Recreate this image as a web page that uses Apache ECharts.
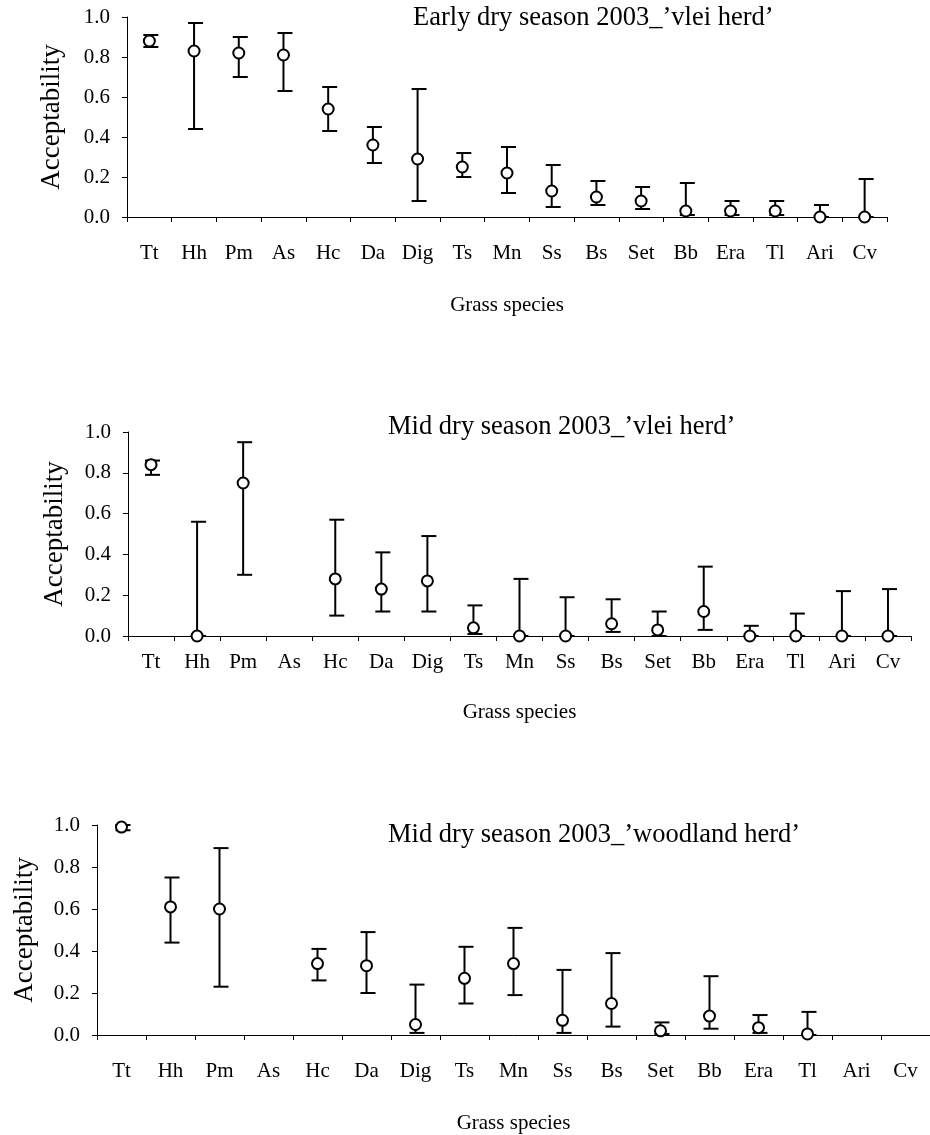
<!DOCTYPE html>
<html>
<head>
<meta charset="utf-8">
<script src="https://cdn.jsdelivr.net/npm/echarts@6/dist/echarts.min.js"></script>
<style>
html,body{margin:0;padding:0;background:#fff;}
#chart{width:930px;height:1135px;}
</style>
</head>
<body>
<div id="chart"></div>
<script>
const categories = ['Tt','Hh','Pm','As','Hc','Da','Dig','Ts','Mn','Ss','Bs','Set','Bb','Era','Tl','Ari','Cv'];
const yTicks = [0, 0.2, 0.4, 0.6, 0.8, 1.0];

const titles = [
  "Early dry season 2003_\u2019vlei herd\u2019",
  "Mid dry season 2003_\u2019vlei herd\u2019",
  "Mid dry season 2003_\u2019woodland herd\u2019"
];
const xName = 'Grass species';
const yName = 'Acceptability';

// Early dry season, vlei herd
const mean1 = [0.88,0.83,0.82,0.81,0.54,0.36,0.29,0.25,0.22,0.13,0.10,0.08,0.03,0.03,0.03,0.00,0.00];
const low1  = [0.85,0.44,0.70,0.63,0.43,0.27,0.08,0.20,0.12,0.05,0.06,0.04,0.01,0.01,0.01,0.00,0.00];
const high1 = [0.91,0.97,0.90,0.92,0.65,0.45,0.64,0.32,0.35,0.26,0.18,0.15,0.17,0.08,0.08,0.06,0.19];

// Mid dry season, vlei herd
const mean2 = [0.84,0.00,0.75,null,0.28,0.23,0.27,0.04,0.00,0.00,0.06,0.03,0.12,0.00,0.00,0.00,0.00];
const low2  = [0.79,0.00,0.30,null,0.10,0.12,0.12,0.01,0.00,0.00,0.02,0.00,0.03,0.00,0.00,0.00,0.00];
const high2 = [0.86,0.56,0.95,null,0.57,0.41,0.49,0.15,0.28,0.19,0.18,0.12,0.34,0.05,0.11,0.22,0.23];

// Mid dry season, woodland herd
const mean3 = [0.99,0.61,0.60,null,0.34,0.33,0.05,0.27,0.34,0.07,0.15,0.02,0.09,0.035,0.005,null,null];
const low3  = [0.975,0.44,0.23,null,0.26,0.20,0.01,0.15,0.19,0.01,0.04,0.005,0.03,0.01,0.00,null,null];
const high3 = [1.00,0.75,0.89,null,0.41,0.49,0.24,0.42,0.51,0.31,0.39,0.06,0.28,0.095,0.11,null,null];

const FONT = "'Liberation Serif','Times New Roman',serif";
const panels = [
  {mean: mean1, low: low1, high: high1, grid: {left:127, right:43, top:17, height:200}, title:{left:413, top:5}, labelMargin:26, nameGap:78, yNameGap:62},
  {mean: mean2, low: low2, high: high2, grid: {left:128, right:19, top:432, height:204}, title:{left:388, top:414}, labelMargin:16, nameGap:66, yNameGap:60},
  {mean: mean3, low: low3, high: high3, grid: {left:97, right:-7, top:825, height:210}, title:{left:388, top:822}, labelMargin:26, nameGap:78, yNameGap:59}
];

const grids = [], xAxes = [], yAxes = [], series = [], titleComps = [];
panels.forEach((p, k) => {
  grids.push(p.grid);
  titleComps.push({text: titles[k], left: p.title.left, top: p.title.top, padding: 0,
    textStyle: {fontFamily: FONT, fontSize: 26.5, fontWeight: 'normal', color: '#000'}});
  xAxes.push({
    type: 'category', gridIndex: k, data: categories, boundaryGap: true,
    axisLine: {lineStyle: {color: '#000', width: 1}},
    axisTick: {show: true, interval: 0, length: 5, lineStyle: {color: '#000'}},
    axisLabel: {interval: 0, margin: p.labelMargin, color: '#000', fontFamily: FONT, fontSize: 21},
    name: xName, nameLocation: 'middle', nameGap: p.nameGap,
    nameTextStyle: {color: '#000', fontFamily: FONT, fontSize: 21},
    splitLine: {show: false}
  });
  yAxes.push({
    type: 'value', gridIndex: k, min: 0, max: 1, interval: 0.2,
    axisLine: {show: true, lineStyle: {color: '#000', width: 1}},
    axisTick: {show: true, length: 5, lineStyle: {color: '#000'}},
    axisLabel: {margin: 17, color: '#000', fontFamily: FONT, fontSize: 21,
      formatter: v => (yTicks.find(t => Math.abs(t - v) < 1e-9) ?? v).toFixed(1)},
    splitLine: {show: false},
    name: yName, nameLocation: 'middle', nameGap: p.yNameGap,
    nameTextStyle: {color: '#000', fontFamily: FONT, fontSize: 27}
  });
  const errData = [];
  const ptData = [];
  categories.forEach((c, i) => {
    if (p.low[i] != null && p.high[i] != null) errData.push([i, p.low[i], p.high[i]]);
    if (p.mean[i] != null) ptData.push([i, p.mean[i]]);
  });
  series.push({
    type: 'custom', xAxisIndex: k, yAxisIndex: k, data: errData, z: 2, clip: false,
    renderItem: function (params, api) {
      const x = api.value(0);
      const lo = api.coord([x, api.value(1)]);
      const hi = api.coord([x, api.value(2)]);
      const st = {stroke: '#000', lineWidth: 2};
      const cl = -6, cr = 9;
      return {type: 'group', children: [
        {type: 'line', shape: {x1: lo[0], y1: lo[1], x2: hi[0], y2: hi[1]}, style: st},
        {type: 'line', shape: {x1: lo[0] + cl, y1: lo[1], x2: lo[0] + cr, y2: lo[1]}, style: st},
        {type: 'line', shape: {x1: hi[0] + cl, y1: hi[1], x2: hi[0] + cr, y2: hi[1]}, style: st}
      ]};
    }
  });
  series.push({
    type: 'scatter', xAxisIndex: k, yAxisIndex: k, data: ptData, z: 3, clip: false,
    symbol: 'circle', symbolSize: 11,
    itemStyle: {color: '#fff', borderColor: '#000', borderWidth: 2, opacity: 1}
  });
});

const chart = echarts.init(document.getElementById('chart'), null, {renderer: 'canvas'});
chart.setOption({
  backgroundColor: '#fff',
  animation: false,
  title: titleComps,
  grid: grids,
  xAxis: xAxes,
  yAxis: yAxes,
  series: series
});
</script>
</body>
</html>
